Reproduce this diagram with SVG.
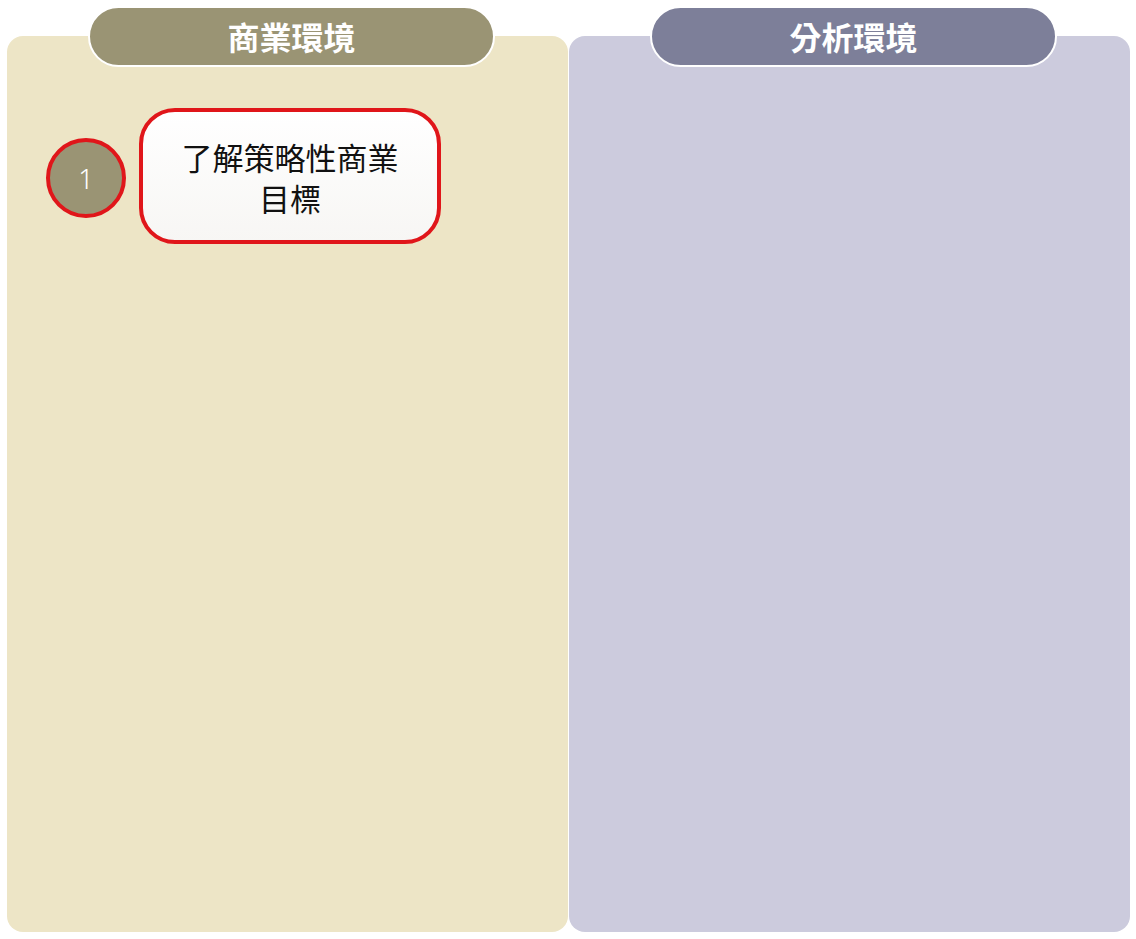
<svg xmlns="http://www.w3.org/2000/svg" width="1136" height="939" viewBox="0 0 1136 939">
<style>
.hdr{font-family:"Noto Sans CJK TC","Noto Sans CJK SC",sans-serif;font-size:32px;font-weight:700;fill:#ffffff;text-anchor:middle;dominant-baseline:central}
.lbl{font-family:"Noto Sans CJK TC","Noto Sans CJK SC",sans-serif;font-size:31px;fill:#111111;text-anchor:middle;dominant-baseline:central}
.num{font-family:"Noto Sans","Liberation Sans",sans-serif;font-size:27px;font-weight:300;fill:#ffffff;text-anchor:middle;dominant-baseline:central}
.pill{stroke:#ffffff;stroke-width:2}
.hl{stroke:#e0161a;stroke-width:4}
</style>
<defs>
<linearGradient id="boxg" x1="0" y1="0" x2="0" y2="1">
<stop offset="0" stop-color="#ffffff"/>
<stop offset="1" stop-color="#f7f6f4"/>
</linearGradient>
</defs>
<rect width="1136" height="939" fill="#ffffff"/>
<g id="lane-business">
<rect x="7" y="36" width="561" height="896" rx="16" fill="#ede5c6"/>
<rect class="pill" x="89" y="7" width="405" height="59" rx="29.5" fill="#9a9474"/>
<text class="hdr" x="291.5" y="36">商業環境</text>
</g>
<g id="lane-analysis">
<rect x="569" y="36" width="561" height="896" rx="16" fill="#cccbdd"/>
<rect class="pill" x="651" y="7" width="405" height="59" rx="29.5" fill="#7d7f99"/>
<text class="hdr" x="853.5" y="36">分析環境</text>
</g>
<g id="connectors"></g>
<g id="step-1-badge">
<circle class="hl" cx="86" cy="178" r="38" fill="#9a9474"/>
<text class="num" x="86" y="178">1</text>
</g>
<g id="step-1">
<rect class="hl" x="141" y="110" width="298" height="132" rx="34" fill="url(#boxg)"/>
<text class="lbl" x="290" y="156">了解策略性商業</text>
<text class="lbl" x="290" y="197">目標</text>
</g>
</svg>
